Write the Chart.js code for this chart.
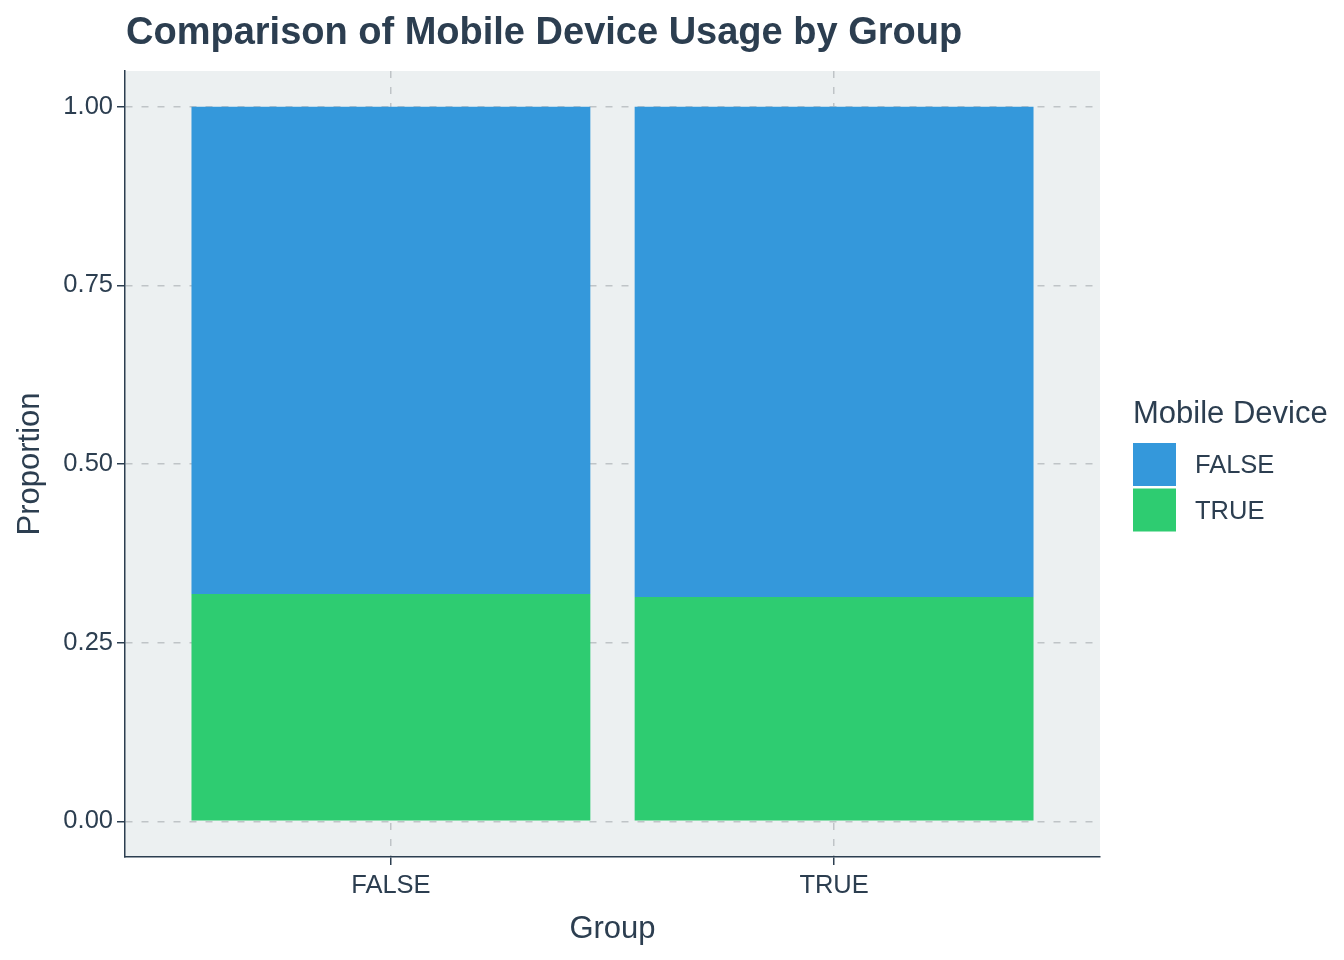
<!DOCTYPE html>
<html>
<head>
<meta charset="utf-8">
<script src="https://cdn.jsdelivr.net/npm/chart.js@4"></script>
<style>
  html, body { margin: 0; padding: 0; background: #ffffff; }
  #wrap { width: 1344px; height: 960px; }
</style>
</head>
<body>
<div id="wrap"><canvas id="usageChart" width="1344" height="960"></canvas></div>
<script>
// data
const groups = ['FALSE', 'TRUE'];
const mobileLevels = ['FALSE', 'TRUE'];
const propMobileTrue = [0.318, 0.314];
const propMobileFalse = [0.682, 0.686];
const yTicks = [0, 0.25, 0.5, 0.75, 1.0];

const chartTitle = 'Comparison of Mobile Device Usage by Group';
const legendTitle = 'Mobile Device';
const colFalse = '#3498DB';
const colTrue = '#2ECC71';
const textCol = '#2C3E50';
const fontFam = "'Liberation Sans', Arial, sans-serif";

// plot background + title + legend, drawn by hand like ggplot does
const decor = {
    id: 'decor',
    beforeDraw(chart) {
        const {ctx, chartArea: a} = chart;
        ctx.save();
        ctx.fillStyle = '#ffffff';
        ctx.fillRect(0, 0, chart.width, chart.height);
        ctx.fillStyle = '#ECF0F1';
        ctx.fillRect(a.left, a.top, a.right - a.left, a.bottom - a.top);
        ctx.restore();
    },
    afterDraw(chart) {
        const ctx = chart.ctx;
        ctx.save();
        ctx.fillStyle = textCol;
        ctx.textAlign = 'left';
        ctx.textBaseline = 'alphabetic';
        ctx.font = 'bold 38px ' + fontFam;
        ctx.fillText(chartTitle, 126, 44);

        ctx.font = '31px ' + fontFam;
        ctx.fillText(legendTitle, 1133, 423);

        const colors = [colFalse, colTrue];
        ctx.font = '25.5px ' + fontFam;
        ctx.textBaseline = 'middle';
        mobileLevels.forEach((lab, i) => {
            const y = 443 + i * 45.5;
            ctx.fillStyle = colors[i];
            ctx.fillRect(1133, y, 43, 43);
            ctx.fillStyle = textCol;
            ctx.fillText(lab, 1195, y + 23);
        });
        ctx.restore();
    }
};

const ctx = document.getElementById('usageChart').getContext('2d');

const usageChart = new Chart(ctx, {
    type: 'bar',
    data: {
        datasets: [{
            label: mobileLevels[1],
            data: groups.map((g, i) => ({x: i + 1, y: propMobileTrue[i]})),
            backgroundColor: colTrue,
            borderWidth: 0
        }, {
            label: mobileLevels[0],
            data: groups.map((g, i) => ({x: i + 1, y: propMobileFalse[i]})),
            backgroundColor: colFalse,
            borderWidth: 0
        }]
    },
    options: {
        responsive: false,
        devicePixelRatio: 1,
        animation: false,
        layout: {
            padding: {top: 71, right: 244, bottom: 0, left: 0}
        },
        datasets: {
            bar: {categoryPercentage: 0.9, barPercentage: 1.0}
        },
        plugins: {
            legend: {display: false},
            title: {display: false},
            tooltip: {enabled: false}
        },
        scales: {
            x: {
                type: 'linear',
                offset: false,
                stacked: true,
                min: 0.4,
                max: 2.6,
                afterBuildTicks: s => { s.ticks = groups.map((g, i) => ({value: i + 1})); },
                afterFit: s => { s.height = 103; },
                ticks: {
                    callback: v => groups[Math.round(v) - 1],
                    color: textCol,
                    font: {family: fontFam, size: 25.5},
                    padding: 6,
                    maxRotation: 0
                },
                grid: {
                    offset: false,
                    color: '#BFC4C7',
                    lineWidth: 1.5,
                    tickLength: 8,
                    tickColor: textCol,
                    tickWidth: 1.5,
                    tickBorderDash: []
                },
                border: {display: true, color: textCol, width: 1.5, dash: [7, 9]},
                title: {
                    display: true,
                    text: 'Group',
                    color: textCol,
                    font: {family: fontFam, size: 31},
                    padding: {top: 0, bottom: 12}
                }
            },
            y: {
                stacked: true,
                min: -0.05,
                max: 1.05,
                afterBuildTicks: s => { s.ticks = yTicks.map(v => ({value: v})); },
                afterFit: s => { s.width = 125; },
                ticks: {
                    callback: v => Number(v).toFixed(2),
                    color: textCol,
                    font: {family: fontFam, size: 25.5},
                    padding: 4
                },
                grid: {
                    color: '#BFC4C7',
                    lineWidth: 1.5,
                    tickLength: 8,
                    tickColor: textCol,
                    tickWidth: 1.5,
                    tickBorderDash: []
                },
                border: {display: true, color: textCol, width: 1.5, dash: [7, 9]},
                title: {
                    display: true,
                    text: 'Proportion',
                    color: textCol,
                    font: {family: fontFam, size: 31},
                    padding: {top: 12, bottom: 0}
                }
            }
        }
    },
    plugins: [decor]
});
</script>
</body>
</html>
